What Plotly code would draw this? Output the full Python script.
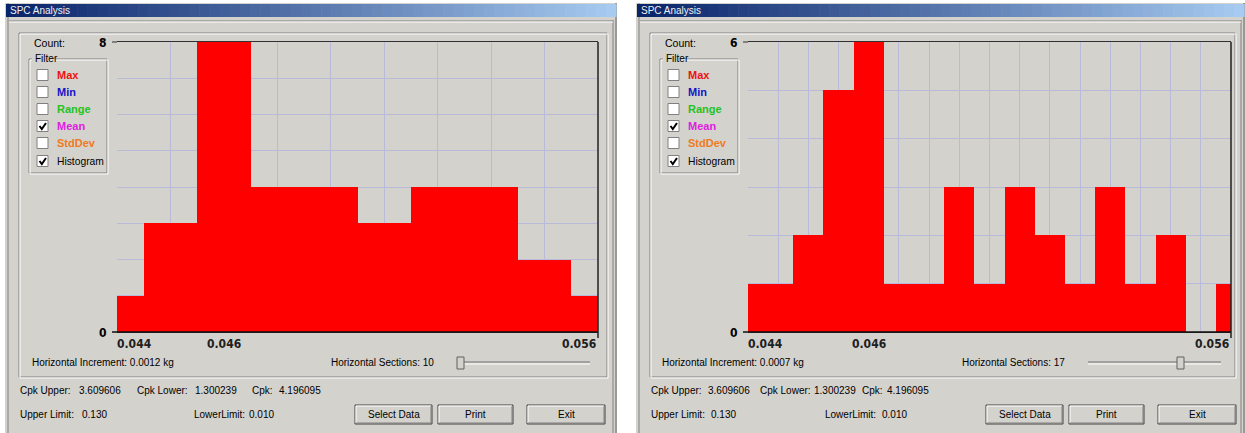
import plotly.graph_objects as go

W, H = 1245, 433

# ── data ──────────────────────────────────────────────────────────────
left_counts = [1, 3, 8, 4, 4, 3, 4, 4, 2, 1]
right_counts = [1, 1, 2, 5, 6, 1, 1, 3, 1, 3, 2, 1, 3, 1, 2, 0, 1]
left_ymax = 8
right_ymax = 6
tick_text = ["0.044", "0.046", "0.056"]
left_tick_bins = [0, 2, 9]
right_tick_bins = [0, 4, 16]
left_increment = "0.0012 kg"
right_increment = "0.0007 kg"
filter_names = ["Max", "Min", "Range", "Mean", "StdDev", "Histogram"]
filter_checked = [False, False, False, True, False, True]
cpk_upper, cpk_lower, cpk = "3.609606", "1.300239", "4.196095"
upper_limit, lower_limit = "0.130", "0.010"

GRAY = "#d4d2cd"
DARK = "#808080"
GRID = "#b9b9d8"
UI_FONT = "Liberation Sans, Arial, sans-serif"
AX_FONT = "DejaVu Sans Condensed, Liberation Sans Narrow, Arial, sans-serif"
FILTER_COLORS = ["#ee1111", "#1414c8", "#22c322", "#e020e0", "#f07a22", "black"]


def fx(x):
    return x / W


def fy(y):
    return 1 - y / H


shapes = []
annotations = []


def rect(x0, y0, x1, y1, fill=None, line=None, lw=1):
    shapes.append(dict(type="rect", xref="paper", yref="paper",
                       x0=fx(x0), x1=fx(x1), y0=fy(y1), y1=fy(y0),
                       fillcolor=fill or "rgba(0,0,0,0)",
                       line=dict(color=line or "rgba(0,0,0,0)", width=lw if line else 0),
                       layer="below"))


def hline(x0, x1, y, color, lw=1, layer="below"):
    shapes.append(dict(type="line", xref="paper", yref="paper",
                       x0=fx(x0), x1=fx(x1), y0=fy(y), y1=fy(y),
                       line=dict(color=color, width=lw), layer=layer))


def vline(x, y0, y1, color, lw=1, layer="below"):
    shapes.append(dict(type="line", xref="paper", yref="paper",
                       x0=fx(x), x1=fx(x), y0=fy(y0), y1=fy(y1),
                       line=dict(color=color, width=lw), layer=layer))


def text(x, y, s, size=10, color="black", anchor="left", bold=False, family=UI_FONT):
    annotations.append(dict(x=fx(x), y=fy(y), xref="paper", yref="paper",
                            text=s, showarrow=False, xanchor=anchor, yanchor="middle",
                            font=dict(family=family, size=size, color=color,
                                      weight="bold" if bold else "normal")))


def lerp(c0, c1, t):
    return "#%02x%02x%02x" % tuple(int(a + (b - a) * t) for a, b in zip(c0, c1))


def button(x0, x1, label):
    rect(x0, 405, x1, 424, fill=GRAY, line="#404040")
    hline(x0 + 1, x1 - 1, 406, "white")
    vline(x0 + 1, 406, 423, "white")
    hline(x0 + 1, x1 - 1, 423, DARK)
    vline(x1 - 1, 406, 423, DARK)
    text((x0 + x1) / 2, 414.5, label, anchor="center")


def window(dx, right_edge, increment, sections, thumb, cpk_x, lim_x, title):
    # window body and borders
    rect(dx + 5, 3, right_edge, H, fill=GRAY)
    vline(dx + 8, 3, H, DARK)
    vline(right_edge - 4, 20, H, DARK)
    vline(right_edge - 1, 3, H, "#606060")
    hline(dx + 9, right_edge - 4, 21, DARK)
    hline(dx + 9, right_edge - 4, 22, "white")
    # title bar with gradient
    c0, c1 = (10, 36, 106), (166, 202, 240)
    x_start, x_end = dx + 6, right_edge - 1
    steps = 60
    for i in range(steps):
        a = x_start + (x_end - x_start) * i / steps
        b = x_start + (x_end - x_start) * (i + 1) / steps
        rect(a, 4, b + 0.6, 17, fill=lerp(c0, c1, i / (steps - 1)))
    text(dx + 8, 10.5, title, size=10, color="#f0f0f0")
    # main group box (etched)
    rect(dx + 19, 33, right_edge - 10, 377, line=DARK)
    rect(dx + 20, 34, right_edge - 9, 378, line="white")
    # filter box
    rect(dx + 29, 59, dx + 107, 173, line=DARK)
    rect(dx + 30, 60, dx + 108, 174, line="white")
    rect(dx + 32, 54, dx + 50, 63, fill=GRAY)
    text(dx + 33, 58, "Filter", size=10)
    text(dx + 32, 43, "Count:", size=10.5)
    rows = [75, 92, 109, 126, 143, 161]
    for name, chk, col, cy in zip(filter_names, filter_checked, FILTER_COLORS, rows):
        rect(dx + 37, cy - 5.5, dx + 48, cy + 5.5, fill="white", line=DARK)
        if chk:
            shapes.append(dict(type="path", xref="paper", yref="paper",
                               path="M %f,%f L %f,%f L %f,%f" % (
                                   fx(dx + 39.5), fy(cy), fx(dx + 41.8), fy(cy + 3),
                                   fx(dx + 46), fy(cy - 3)),
                               line=dict(color="black", width=2)))
        bold = name != "Histogram"
        text(dx + 55, cy, name, size=11 if bold else 10.3, color=col, bold=bold)
    # bottom texts
    text(dx + cpk_x[0], 362, "Horizontal Increment: " + increment)
    text(dx + 329, 362, "Horizontal Sections: %d" % sections)
    # slider
    hline(dx + 457, dx + 590, 362, "#707070")
    hline(dx + 457, dx + 590, 364, "white")
    rect(dx + thumb, 357, dx + thumb + 7, 369, fill=GRAY, line="#606060")
    (_, uvx, lx, lvx, cx, cvx) = cpk_x
    text(dx + 18, 390, "Cpk Upper:")
    text(dx + uvx, 390, cpk_upper)
    text(dx + lx, 390, "Cpk Lower:")
    text(dx + lvx, 390, cpk_lower)
    text(dx + cx, 390, "Cpk:")
    text(dx + cvx, 390, cpk)
    (ulv, llx, llv) = lim_x
    text(dx + 18, 414, "Upper Limit:")
    text(dx + ulv, 414, upper_limit)
    text(dx + llx, 414, "LowerLimit:")
    text(dx + llv, 414, lower_limit)
    button(dx + 355, dx + 432, "Select Data")
    button(dx + 438, dx + 513, "Print")
    button(dx + 527, dx + 605, "Exit")


window(0, 617, left_increment, 10, 457, (30, 77, 135, 193, 250, 277), (80, 192, 247),
       "SPC Analysis")
window(631, W, right_increment, 17, 546, (29, 75, 127, 181, 229, 254), (78, 192, 249),
       "SPC Analysis")

fig = go.Figure()

plots = [
    ("x", "y", 117, 598, left_counts, left_ymax, left_tick_bins),
    ("x2", "y2", 748, 1231, right_counts, right_ymax, right_tick_bins),
]
PT, PB = 42, 332
for xa, ya, x0, x1, counts, ymax, tbins in plots:
    n = len(counts)
    fig.add_trace(go.Bar(x=list(range(n)), y=counts, width=1,
                         marker=dict(color="#ff0000", line=dict(width=0)),
                         xaxis=xa, yaxis=ya, showlegend=False, hoverinfo="x+y"))
    xkey = "xaxis" if xa == "x" else "xaxis2"
    ykey = "yaxis" if ya == "y" else "yaxis2"
    fig.update_layout(**{
        xkey: dict(domain=[fx(x0), fx(x1)], range=[0, n - 1], anchor=ya,
                   tickmode="linear", tick0=0, dtick=1, showgrid=True,
                   gridcolor=GRID, gridwidth=1, showticklabels=False, ticks="",
                   showline=True, linecolor="#303030", linewidth=1, mirror=True,
                   zeroline=False, fixedrange=True),
        ykey: dict(domain=[fy(PB), fy(PT)], range=[0, ymax], anchor=xa,
                   tickmode="linear", tick0=0, dtick=1, showgrid=True,
                   gridcolor=GRID, gridwidth=1, showticklabels=False, ticks="",
                   showline=False, zeroline=False, fixedrange=True),
    })
    # bottom axis a bit heavier, right frame edge with tick below
    hline(x0 - 5, x1, PB, "#101010", lw=1.5, layer="above")
    vline(x1, PT, PB + 6, "#202020", lw=1.5, layer="above")
    # y tick stub at top
    hline(x0 - 5, x0, PT, "#303030", lw=1, layer="above")
    text(x0 - 8, PT + 1, str(ymax), size=12, bold=True, anchor="right", family=AX_FONT)
    text(x0 - 8, PB + 1, "0", size=12, bold=True, anchor="right", family=AX_FONT)
    # x tick labels placed through the data axis
    anchors = ["left", "center", "right"]
    for b, lab, anc in zip(tbins, tick_text, anchors):
        shift = -2 if anc == "left" else 0
        annotations.append(dict(x=b, y=fy(344), xref=xa, yref="paper", text=lab,
                                showarrow=False, xanchor=anc, yanchor="middle",
                                xshift=shift,
                                font=dict(family=AX_FONT, size=12, color="#202020",
                                          weight="bold")))

fig.update_layout(
    width=W, height=H,
    margin=dict(l=0, r=0, t=0, b=0),
    paper_bgcolor="white",
    plot_bgcolor="white",
    bargap=0,
    shapes=shapes,
    annotations=annotations,
    showlegend=False,
)

fig.write_html("out.html", config={"displayModeBar": False},
               post_script="document.body.style.margin='0';")
